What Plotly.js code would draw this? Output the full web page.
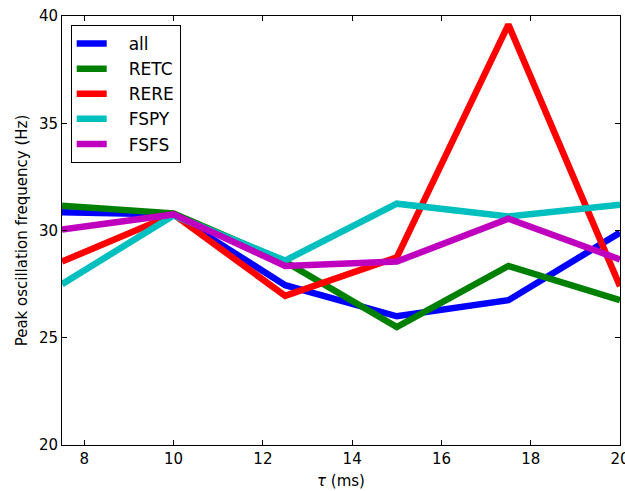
<!DOCTYPE html>
<html>
<head>
<meta charset="utf-8">
<script src="https://cdn.plot.ly/plotly-3.0.1.min.js"></script>
<style>html,body{margin:0;padding:0;background:#fff;}#chart{width:625px;height:491px;}</style>
</head>
<body>
<div id="chart"></div>
<script>
const tau = [7.5, 10, 12.5, 15, 17.5, 20];
const seriesNames = ["all", "RETC", "RERE", "FSPY", "FSFS"];
const allVals  = [30.85, 30.75, 27.45, 26.0, 26.75, 29.9];
const retcVals = [31.15, 30.8, 28.55, 25.5, 28.35, 26.75];
const rereVals = [28.55, 30.75, 26.95, 28.75, 39.6, 27.4];
const fspyVals = [27.5, 30.7, 28.6, 31.25, 30.65, 31.2];
const fsfsVals = [30.05, 30.75, 28.35, 28.55, 30.55, 28.65];
const xTicks = [8, 10, 12, 14, 16, 18, 20];
const yTicks = [20, 25, 30, 35, 40];

const colors = ["#0000ff", "#008000", "#ff0000", "#00bfbf", "#bf00bf"];
const values = [allVals, retcVals, rereVals, fspyVals, fsfsVals];

const traces = seriesNames.map((n, i) => ({
  x: tau, y: values[i], name: "\u2002\u2002" + n, type: "scatter", mode: "lines",
  line: {color: colors[i], width: 6.5}, legendgroup: "g" + i
}));

const axisCommon = {
  showgrid: false, zeroline: false, showline: true, linecolor: "#000", linewidth: 1,
  mirror: "ticks", ticks: "inside", ticklen: 5, tickcolor: "#000", tickwidth: 1,
  ticklabeloverflow: "allow",
  tickfont: {family: "DejaVu Sans", size: 15, color: "#000"}
};

const layout = {
  width: 625, height: 491,
  margin: {l: 62, r: 5, t: 16, b: 46},
  paper_bgcolor: "#fff", plot_bgcolor: "#fff",
  font: {family: "DejaVu Sans", color: "#000"},
  xaxis: Object.assign({}, axisCommon, {
    range: [7.5, 20], tickvals: xTicks, ticktext: xTicks.map(String),
    title: {text: "<i>τ</i> (ms)", font: {size: 15}, standoff: 8}
  }),
  yaxis: Object.assign({}, axisCommon, {
    range: [20, 40], tickvals: yTicks, ticktext: yTicks.map(String),
    title: {text: "Peak oscillation frequency (Hz)", font: {size: 15}, standoff: 7}
  }),
  showlegend: true,
  legend: {
    x: 0.0156, y: 0.979, xanchor: "left", yanchor: "top",
    bordercolor: "#000", borderwidth: 1, bgcolor: "#fff",
    font: {family: "DejaVu Sans", size: 17, color: "#000"},
    tracegroupgap: 0
  }
};

Plotly.newPlot("chart", traces, layout, {displayModeBar: false, staticPlot: true});
</script>
</body>
</html>
